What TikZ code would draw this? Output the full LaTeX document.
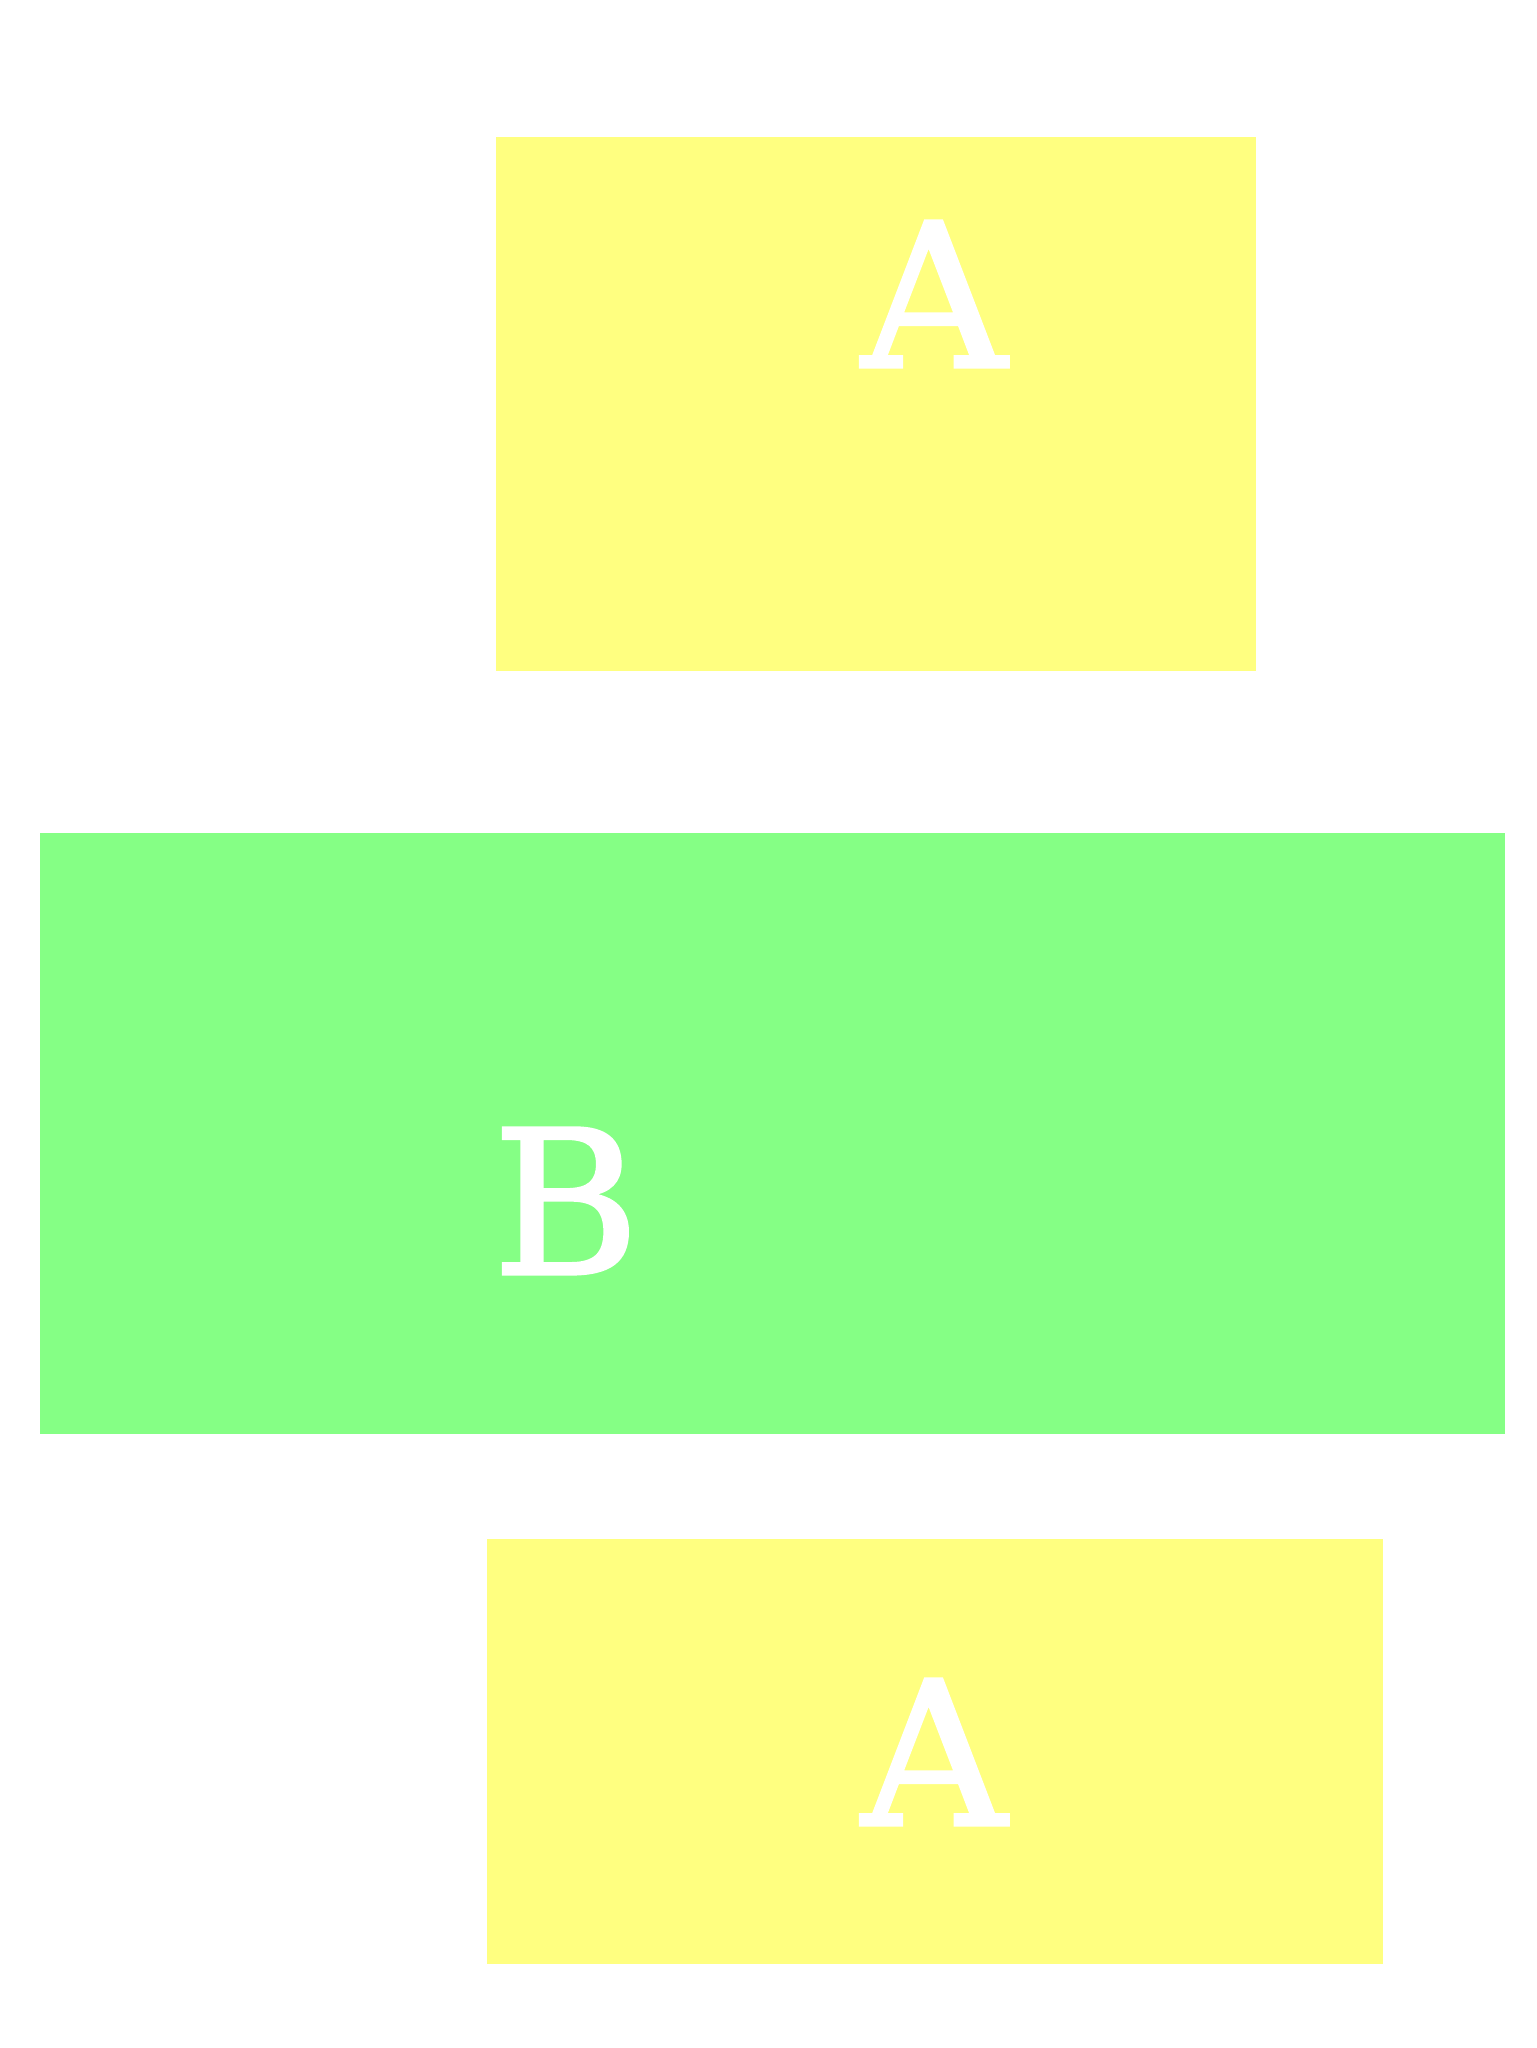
\documentclass[tikz,border=0pt]{standalone}
\usepackage{fontspec}
\newfontfamily\lettfont[FakeBold=1.6]{DejaVu Serif}
\definecolor{boxyellow}{HTML}{FFFF80}
\definecolor{boxgreen}{HTML}{85FF85}
\begin{document}
\begin{tikzpicture}[x=0.1mm,y=-0.1mm,
  letter/.style={text=white,font=\lettfont\fontsize{57}{57}\selectfont,inner sep=0pt,anchor=base}]
\useasboundingbox (0,0) rectangle (1536,2048);
\fill[white] (0,0) rectangle (1536,2048);
\fill[boxyellow] (496,137) rectangle (1256,671);
\fill[boxgreen] (40,833) rectangle (1505,1434);
\fill[boxyellow] (487,1539) rectangle (1383,1964);
\node[letter] (a1) at (934,367) {A};
\node[letter] (b) at (566,1274) {B};
\node[letter] (a2) at (934,1825) {A};
\end{tikzpicture}
\end{document}
